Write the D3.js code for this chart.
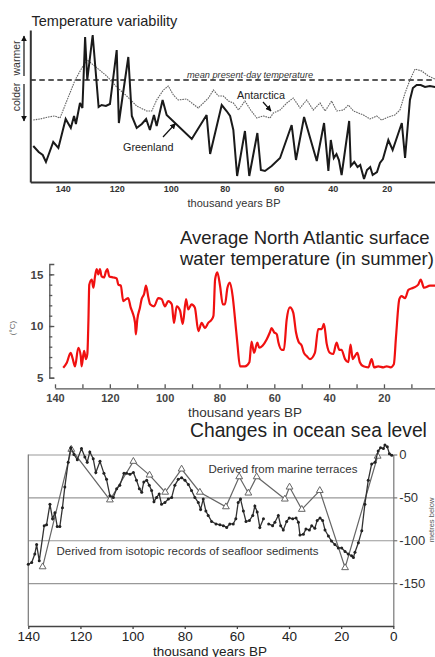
<!DOCTYPE html>
<html>
<head>
<meta charset="utf-8">
<script src="https://cdn.jsdelivr.net/npm/d3@7"></script>
<style>
  html, body { margin: 0; padding: 0; background: #fff; overflow: hidden; }
  svg { display: block; font-family: "Liberation Sans", Arial, sans-serif; }
</style>
</head>
<body>
<svg id="chart" width="435" height="657"></svg>
<script>
// ---- data -------------------------------------------------------------
const tickYears = [140, 120, 100, 80, 60, 40, 20, 0];

// panel 1: temperature relative to present-day mean (arbitrary units), by thousand years BP
const greenland = [[150.9,-6.6],[148.9,-7.2],[147.4,-7.5],[146.2,-8.2],[143.5,-6.2],[141.6,-6.8],[138.9,-3.9],[137.0,-4.8],[135.8,-3.6],[135.1,-4.4],[133.6,-2.3],[132.7,-2.8],[131.7,4.3],[130.9,0],[128.9,4.5],[126.7,-2.7],[125.6,-2.5],[124.0,-2.6],[122.5,-2.4],[120.0,3.0],[119.2,-4.3],[117.8,-1.6],[115.7,2.3],[114.4,-3.6],[112.6,-4.8],[110.7,-4.4],[109.1,-3.9],[107.7,-5.0],[106.2,-3.5],[105.2,-4.6],[103.0,-2.0],[101.5,-3.5],[92.2,-5.9],[86.7,-3.5],[85.4,-7.4],[81.1,-2.5],[79.3,-3.1],[78.0,-3.6],[76.8,-5.0],[75.4,-9.6],[72.5,-5.1],[70.9,-9.6],[67.9,-5.3],[66.6,-9.0],[65.1,-9.1],[62.6,-8.6],[59.5,-7.8],[55.2,-4.5],[53.6,-8.0],[50.6,-3.7],[45.9,-8.1],[43.2,-4.3],[41.6,-9.1],[40.7,-6.0],[39.6,-7.8],[38.6,-7.4],[37.7,-8.0],[36.7,-9.5],[33.9,-4.1],[33.3,-8.6],[32.0,-8.2],[30.8,-8.7],[29.8,-8.5],[28.4,-9.9],[27.3,-9.0],[26.1,-8.7],[25.2,-9.5],[23.6,-9.2],[22.5,-8.3],[21.4,-7.9],[19.4,-6.0],[17.8,-7.0],[14.4,-4.3],[13.2,-7.8],[11.4,-2.0],[10.3,-0.8],[8.9,-0.5],[7.4,-0.5],[5.8,-0.7],[4.0,-0.6],[2.1,-0.7],[0,-0.7]];
const antarctica = [[150.9,-4.0],[148.4,-3.9],[145.3,-3.7],[143,-3.6],[141,-3.8],[138.5,-2.1],[135.4,0],[132.3,1.5],[130.9,2.0],[128.6,1.5],[123.7,0.4],[120.0,-0.7],[116.3,-1.6],[112.6,-2.6],[108.9,-3.1],[107.0,-3.1],[105.2,-2.0],[102.7,-1.0],[100.9,-0.6],[99.0,-1.5],[97.2,-2.0],[94.1,-1.9],[92.2,-2.3],[89.8,-2.8],[87.9,-2.3],[86.0,-1.8],[84.2,-1.0],[82.3,-1.6],[80.5,-1.6],[78.6,-2.1],[76.8,-2.3],[74.9,-3.0],[72.5,-2.1],[70.4,-3.0],[68.1,-3.8],[65.7,-3.6],[63.2,-3.8],[62.0,-3.3],[59.5,-3.0],[57.0,-2.3],[54.6,-1.8],[52.1,-2.8],[49.6,-2.0],[47.2,-3.0],[44.7,-2.3],[42.8,-3.1],[40.4,-2.1],[38.5,-3.1],[36.0,-3.0],[34.2,-2.5],[32.3,-3.1],[30.5,-3.3],[28.6,-3.5],[26.2,-3.9],[23.7,-3.6],[21.9,-4.0],[19.4,-3.7],[17.0,-3.5],[15.1,-3.0],[13.2,-1.3],[11.4,0],[9.5,1.1],[7.0,0.9],[4.6,0.4],[2.1,0.1],[0,0]];

// panel 2: North Atlantic summer surface water temperature (°C)
const sst = [[137.0,5.97],[135.7,6.45],[134.3,7.4],[133.6,6.9],[132.7,6.1],[131.5,7.9],[130.6,7.1],[130.3,6.1],[129.4,7.6],[128.7,6.8],[128.2,7.3],[127.8,10.6],[127.5,14.0],[126.6,14.5],[126.0,13.7],[125.4,14.8],[124.8,15.5],[124.2,15.0],[123.6,15.5],[123.0,14.8],[122.1,14.7],[121.4,15.3],[120.9,15.5],[120.2,14.8],[118.7,14.7],[117.5,14.6],[116.9,14.0],[116.0,13.9],[115.1,12.4],[114.1,12.6],[113.3,12.7],[112.4,11.8],[111.7,11.3],[110.8,10.3],[110.5,9.2],[110.0,10.6],[109.0,11.8],[108.4,12.6],[107.5,13.1],[106.8,13.9],[105.9,12.7],[105.3,12.1],[103.9,11.9],[102.3,12.7],[101.1,12.6],[99.9,11.9],[98.7,12.4],[97.4,12.1],[96.6,10.3],[95.6,11.9],[94.4,11.5],[93.4,10.2],[92.2,12.6],[91.4,11.6],[90.2,12.1],[89.0,11.8],[87.7,9.5],[86.5,10.3],[85.3,9.8],[84.1,10.3],[82.9,10.6],[82.2,11.0],[81.6,14.5],[80.8,15.2],[79.8,13.9],[78.8,12.1],[78.0,12.1],[77.1,13.7],[76.2,14.2],[75.2,12.9],[74.3,10.6],[73.5,8.4],[72.5,6.1],[70.7,6.1],[69.1,6.5],[68.3,8.5],[67.4,7.4],[66.2,8.4],[65.5,7.9],[64.3,8.1],[62.8,8.7],[61.6,9.4],[61.0,9.8],[60.1,9.4],[59.1,9.2],[58.5,8.4],[57.3,7.7],[56.5,7.7],[55.5,10.6],[54.3,11.8],[53.1,11.3],[52.1,9.4],[51.2,8.5],[50.0,8.1],[49.2,7.4],[48.2,7.1],[47.0,6.8],[45.2,7.4],[44.0,9.7],[42.7,9.7],[41.9,10.2],[40.9,8.3],[39.7,7.4],[38.5,7.3],[37.3,8.4],[36.3,7.7],[35.5,7.7],[34.2,6.8],[33.0,6.5],[32.2,8.2],[31.4,6.8],[30.6,7.1],[29.7,7.4],[28.8,6.5],[27.5,6.1],[25.7,6.0],[24.5,6.8],[23.6,6.0],[22.1,6.1],[20.2,6.0],[19.0,6.1],[17.6,6.0],[16.4,6.3],[15.6,9.0],[14.4,12.6],[13.6,12.9],[12.3,12.7],[11.1,13.5],[9.3,13.7],[7.5,14.0],[6.6,14.5],[5.4,13.7],[3.2,13.9],[1.4,13.9],[0,13.9]];
const sstMajor = [5, 10, 15];

// panel 3: sea level (m relative to present)
const sediments = [[140.0,-128],[138.7,-126],[137.5,-116],[136.8,-105],[135.8,-124],[133.9,-83],[133.0,-82],[131.7,-58],[130.7,-75],[129.8,-68],[128.9,-84],[127.9,-84],[126.9,-62],[126.0,-38],[124.7,-9],[123.7,8],[122.5,0],[121.2,-6],[119.6,7],[118.3,-3],[117.4,-9],[116.4,3],[115.1,-5],[114.1,-21],[112.5,-8],[111.0,-22],[110.0,-29],[108.7,-48],[107.4,-50],[106.1,-40],[104.9,-36],[103.3,-22],[102.3,-22],[101.0,-23],[99.7,-21],[98.5,-30],[97.4,-40],[96.5,-44],[95.7,-32],[94.6,-30],[93.6,-36],[92.7,-42],[91.8,-55],[90.8,-50],[89.8,-46],[88.9,-58],[87.6,-56],[86.3,-52],[85.0,-50],[83.8,-36],[82.5,-29],[81.2,-27],[79.9,-30],[78.6,-35],[77.4,-42],[76.1,-50],[74.8,-56],[73.9,-64],[72.9,-52],[71.9,-66],[71.0,-71],[69.7,-78],[68.0,-81],[66.5,-82],[65.2,-83],[63.9,-85],[62.7,-81],[61.4,-81],[60.4,-75],[59.5,-56],[58.6,-52],[57.5,-66],[56.5,-78],[55.2,-77],[53.9,-71],[53.1,-60],[52.2,-67],[51.2,-85],[49.8,-75],[48.8,null],[47.8,-81],[46.3,-83],[45.4,-79],[44.1,-71],[43.2,-83],[42.2,-88],[40.9,-78],[39.9,-74],[38.6,-75],[37.3,-74],[36.4,-79],[35.8,-94],[34.5,-93],[33.5,-87],[32.2,-88],[31.3,-83],[30.1,-86],[29.2,-77],[28.1,-74],[27.1,-77],[26.2,-88],[24.9,-95],[23.7,-101],[22.4,-105],[21.1,-109],[19.8,-109],[18.5,-113],[17.3,-116],[16.0,-118],[15.3,-120],[14.7,-114],[13.4,-103],[12.1,-89],[10.9,-58],[9.6,-30],[8.3,-11],[7.0,-9],[5.8,4],[4.9,8],[3.8,7],[3.2,11],[2.3,9],[1.5,1],[0.6,-1]];
const terraces = [[134.5,-131],[123.5,6],[108.7,-53],[99.7,-8],[93.5,-24],[87.5,-44],[81.2,-17],[74.2,-44],[64.2,-61],[59.1,-26],[55.6,-45],[52.4,-26],[41.6,-52],[39.8,-38],[35.1,-64],[28.2,-42],[18.5,-132],[6.0,-2]];
const seaTicks = [0, -50, -100, -150];

// ---- drawing ----------------------------------------------------------
const svg = d3.select('#chart');
const FONT = '"Liberation Sans", Arial, sans-serif';

svg.append('defs').append('marker')
  .attr('id', 'head').attr('viewBox', '0 0 10 10').attr('refX', 9).attr('refY', 5)
  .attr('markerWidth', 5).attr('markerHeight', 5).attr('orient', 'auto')
  .append('path').attr('d', 'M0,0L10,5L0,10z').attr('fill', '#111');

function styleAxis(g, size, weight, color) {
  g.selectAll('text').attr('font-family', FONT).attr('font-size', size)
    .attr('font-weight', weight).attr('fill', color);
}

/* panel 1 — temperature variability */
(function () {
  const g = svg.append('g');
  const x = d3.scaleLinear().domain([152, -2]).range([30.3, 446.1]);
  const y = d3.scaleLinear().domain([-10.2, 5]).range([182, 30]);

  g.append('text').attr('x', 31.5).attr('y', 25.5)
    .attr('font-size', 14.5).attr('fill', '#222').text('Temperature variability');

  // mean present-day line
  g.append('line').attr('x1', x(152)).attr('x2', 435).attr('y1', y(0)).attr('y2', y(0))
    .attr('stroke', '#222').attr('stroke-width', 1.6).attr('stroke-dasharray', '5.5 3.5');
  g.append('text').attr('x', 250).attr('y', 77.5).attr('text-anchor', 'middle')
    .attr('font-size', 9.2).attr('font-style', 'italic').attr('fill', '#333')
    .text('mean present-day temperature');

  const line = d3.line().x((d) => x(d[0])).y((d) => y(d[1]));
  g.append('path').datum(antarctica).attr('d', line)
    .attr('fill', 'none').attr('stroke', '#666').attr('stroke-width', 1.1)
    .attr('stroke-dasharray', '1.6 0.9');
  g.append('path').datum(greenland).attr('d', line)
    .attr('fill', 'none').attr('stroke', '#1a1a1a').attr('stroke-width', 2)
    .attr('stroke-linejoin', 'miter').attr('stroke-miterlimit', 3);

  // axes
  const xa = g.append('g').attr('transform', `translate(0,${y(-10.2)})`)
    .call(d3.axisBottom(x).tickValues(tickYears).tickSize(0).tickPadding(4));
  xa.select('.domain').attr('stroke', '#333').attr('stroke-width', 2);
  styleAxis(xa, 9, 'bold', '#333');
  const ya = g.append('g').attr('transform', `translate(${x(152)},0)`)
    .call(d3.axisLeft(y).tickValues([]).tickSizeOuter(0));
  ya.select('.domain').attr('stroke', '#333').attr('stroke-width', 2);

  g.append('text').attr('x', 234).attr('y', 207).attr('text-anchor', 'middle')
    .attr('font-size', 11).attr('fill', '#333').text('thousand years BP');

  // warmer / colder
  g.append('text').attr('transform', 'translate(19.5,58) rotate(-90)').attr('text-anchor', 'middle')
    .attr('font-size', 10.5).attr('fill', '#333').text('warmer');
  g.append('text').attr('transform', 'translate(19.5,97) rotate(-90)').attr('text-anchor', 'middle')
    .attr('font-size', 10.5).attr('fill', '#333').text('colder');
  g.append('line').attr('x1', 24).attr('x2', 24).attr('y1', 76).attr('y2', 36)
    .attr('stroke', '#111').attr('stroke-width', 1.2).attr('marker-end', 'url(#head)');
  g.append('line').attr('x1', 24).attr('x2', 24).attr('y1', 84).attr('y2', 121)
    .attr('stroke', '#111').attr('stroke-width', 1.2).attr('marker-end', 'url(#head)');

  // series labels
  g.append('text').attr('x', 237).attr('y', 98.5).attr('font-size', 10.8).attr('fill', '#222').text('Antarctica');
  g.append('line').attr('x1', 263).attr('y1', 102).attr('x2', 271).attr('y2', 111)
    .attr('stroke', '#111').attr('stroke-width', 1.2).attr('marker-end', 'url(#head)');
  g.append('text').attr('x', 123).attr('y', 151).attr('font-size', 10.8).attr('fill', '#222').text('Greenland');
  g.append('line').attr('x1', 163).attr('y1', 137).attr('x2', 175.5).attr('y2', 123.5)
    .attr('stroke', '#111').attr('stroke-width', 1.2).attr('marker-end', 'url(#head)');
})();

/* panel 2 — North Atlantic summer SST */
(function () {
  const g = svg.append('g');
  const x = d3.scaleLinear().domain([140, 0]).range([55, 438.8]);
  const y = d3.scaleLinear().domain([5, 16]).range([377.7, 264.0]);

  g.append('text').attr('x', 180).attr('y', 244).attr('font-size', 18.5).attr('fill', '#222')
    .text('Average North Atlantic surface');
  g.append('text').attr('x', 180).attr('y', 265).attr('font-size', 18.5).attr('fill', '#222')
    .text('water temperature (in summer)');

  const ya = g.append('g').attr('transform', 'translate(49.3,0)')
    .call(d3.axisLeft(y).tickValues(sstMajor).tickSizeInner(-5).tickSizeOuter(-5).tickPadding(6));
  const yminor = g.append('g').attr('transform', 'translate(49.3,0)')
    .call(d3.axisLeft(y).tickValues(d3.range(6, 16)).tickSize(-3).tickFormat(''));
  yminor.select('.domain').remove();
  g.selectAll('.tick line, .domain').attr('stroke', '#555').attr('stroke-width', 1.3);
  styleAxis(ya, 11.5, 'bold', '#444');

  g.append('text').attr('transform', 'translate(15,328) rotate(-90)').attr('text-anchor', 'middle')
    .attr('font-size', 8).attr('fill', '#666').text('(°C)');

  const xa = g.append('g').attr('transform', 'translate(0,388.3)')
    .call(d3.axisBottom(x).tickValues(d3.range(0, 141, 10))
      .tickFormat((d) => (d % 20 === 0 ? d : '')).tickSizeInner(-4).tickSizeOuter(0).tickPadding(6));
  xa.selectAll('.tick line, .domain').attr('stroke', '#555').attr('stroke-width', 1.3);
  styleAxis(xa, 11, 'bold', '#444');

  g.append('text').attr('x', 245).attr('y', 416.5).attr('text-anchor', 'middle')
    .attr('font-size', 13.5).attr('fill', '#333').text('thousand years BP');

  const line = d3.line().x((d) => x(d[0])).y((d) => y(d[1])).curve(d3.curveMonotoneX);
  g.append('path').datum(sst).attr('d', line)
    .attr('fill', 'none').attr('stroke', '#f01010').attr('stroke-width', 2.2)
    .attr('stroke-linejoin', 'round');
})();

/* panel 3 — sea level */
(function () {
  const g = svg.append('g');
  const x = d3.scaleLinear().domain([140, 0]).range([28.3, 393.3]);
  const y = d3.scaleLinear().domain([-200, 0]).range([626, 454.5]);

  g.append('text').attr('x', 190).attr('y', 437).attr('font-size', 19.3).attr('fill', '#222')
    .text('Changes in ocean sea level');

  // gridlines
  const grid = g.append('g').attr('transform', `translate(${x(0)},0)`)
    .call(d3.axisLeft(y).tickValues(seaTicks).tickSize(x(0) - x(140)).tickFormat(''));
  grid.select('.domain').remove();
  grid.selectAll('.tick line').attr('stroke', '#999').attr('stroke-width', 1.2);

  const ra = g.append('g').attr('transform', `translate(${x(0)},0)`)
    .call(d3.axisRight(y).tickValues(seaTicks).tickSize(4).tickSizeOuter(0).tickPadding(2)
      .tickFormat((d) => String(d)));
  ra.selectAll('.tick line, .domain').attr('stroke', '#777').attr('stroke-width', 1.2);
  styleAxis(ra, 13, 'normal', '#333');

  g.append('line').attr('x1', x(140)).attr('x2', x(140)).attr('y1', y(-200)).attr('y2', y(0))
    .attr('stroke', '#777').attr('stroke-width', 1.2);

  const xa = g.append('g').attr('transform', `translate(0,${y(-200)})`)
    .call(d3.axisBottom(x).tickValues(tickYears).tickSize(3).tickSizeOuter(0).tickPadding(2.5));
  xa.selectAll('.tick line, .domain').attr('stroke', '#444').attr('stroke-width', 1.3);
  styleAxis(xa, 13.5, 'normal', '#222');

  g.append('text').attr('x', 210).attr('y', 655.5).attr('text-anchor', 'middle')
    .attr('font-size', 13.5).attr('fill', '#222').text('thousand years BP');
  g.append('text').attr('transform', 'translate(434,520) rotate(-90)').attr('text-anchor', 'middle')
    .attr('font-size', 7.5).attr('fill', '#555').text('metres below');

  const line = d3.line().defined((d) => d[1] !== null).x((d) => x(d[0])).y((d) => y(d[1]));

  g.append('path').datum(terraces).attr('d', line)
    .attr('fill', 'none').attr('stroke', '#666').attr('stroke-width', 1.2);
  g.selectAll('path.tri').data(terraces).enter().append('path').attr('class', 'tri')
    .attr('transform', (d) => `translate(${x(d[0])},${y(d[1])})`)
    .attr('d', d3.symbol(d3.symbolTriangle).size(20))
    .attr('fill', '#fff').attr('stroke', '#666').attr('stroke-width', 1);

  g.append('path').datum(sediments).attr('d', line)
    .attr('fill', 'none').attr('stroke', '#333').attr('stroke-width', 1.3);
  g.selectAll('circle.sed').data(sediments.filter((d) => d[1] !== null)).enter()
    .append('circle').attr('class', 'sed')
    .attr('cx', (d) => x(d[0])).attr('cy', (d) => y(d[1])).attr('r', 1.5).attr('fill', '#222');

  g.append('text').attr('x', 208.5).attr('y', 472.5).attr('font-size', 11.5).attr('fill', '#333')
    .text('Derived from marine terraces');
  g.append('text').attr('x', 56.5).attr('y', 554.5).attr('font-size', 11.5).attr('fill', '#333')
    .text('Derived from isotopic records of seafloor sediments');
})();
</script>
</body>
</html>
